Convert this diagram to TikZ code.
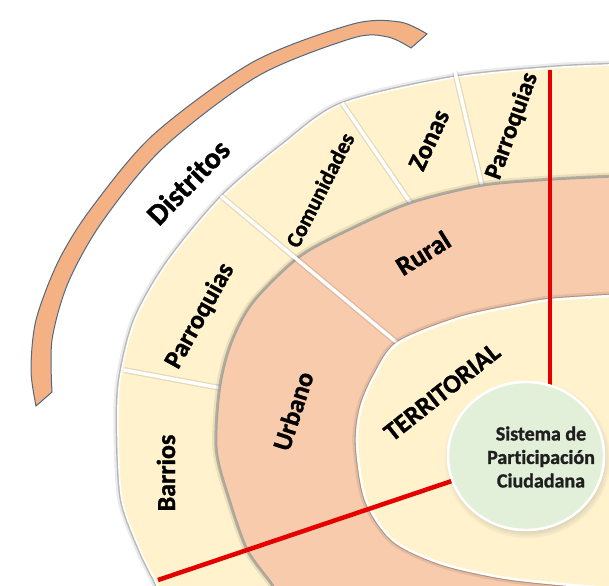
\documentclass[tikz,border=0pt]{standalone}
\usepackage{fontspec}
\setmainfont{Carlito}[Ligatures=NoCommon, BoldFeatures={FakeBold=1.3}]
\usetikzlibrary{shapes.geometric,shadows}
\definecolor{cream}{RGB}{255,242,204}
\definecolor{salmon}{RGB}{248,203,173}
\definecolor{sysgreen}{RGB}{226,240,217}
\definecolor{brk}{RGB}{244,177,131}
\definecolor{brkline}{RGB}{84,104,128}
\definecolor{redline}{RGB}{228,0,0}
\definecolor{rimgray}{RGB}{165,165,165}
\tikzset{
  lbl/.style={font=\bfseries\fontsize{#1}{#1}\selectfont, inner sep=0pt, text=black},
  systext/.style={font=\bfseries\fontsize{20}{23.5}\selectfont, inner sep=0pt, text={black!88}, align=center},
  shadowA/.style={draw=black, line width=9pt, opacity=0.08},
  shadowB/.style={draw=black, line width=4.5pt, opacity=0.22},
  whiterim/.style={draw=white, line width=1.6pt},
  grayrim/.style={draw=rimgray, line width=1.4pt},
  dividerline/.style={draw=white, line width=3.5pt},
  dividershadow/.style={draw=black, line width=6pt, opacity=0.10},
  redln/.style={draw=redline, line width=4.5pt},
  bracket/.style={fill=brk, draw=brkline, line width=1pt},
}
\begin{document}
\begin{tikzpicture}[x=1pt,y=-1pt]
\useasboundingbox (0,0) rectangle (609,585);
\clip (0,0) rectangle (609,585);
\fill[white] (0,0) rectangle (609,585);

% Distritos bracket
\draw[bracket] plot[smooth] coordinates {(36,406) (31,370) (36,320) (58,262) (90,210) (153,135) (253,62) (353,24) (400,22) (427,34)}
  -- plot[smooth] coordinates {(411,48) (388,37) (353,38) (258,76) (163,148) (102,222) (68,283) (52,340) (52,392)} -- cycle;

% outer ring
\path[save path=\outerP] plot[smooth] coordinates {(640,63) (609,65) (550,68) (452,78) (342,104) (283,145) (222,197) (168,262) (135,320) (120,380) (118,433) (122,500) (140,550) (157,585) (166,610)} -- (640,640) -- cycle;
\draw[shadowA, use path=\outerP];
\draw[shadowB, use path=\outerP];
\fill[cream, use path=\outerP];
\draw[whiterim, use path=\outerP];

% dividers ending at the salmon ring
\coordinate (d1a) at (455,72);  \coordinate (d1b) at (483,190);
\coordinate (d2a) at (342,103); \coordinate (d2b) at (414,208);
\coordinate (d4a) at (124,370); \coordinate (d4b) at (226,389);
\foreach \a/\b in {d1a/d1b,d2a/d2b,d4a/d4b}{
  \draw[dividershadow] (\a) -- (\b);
  \draw[dividerline] (\a) -- (\b);
}

% salmon ring
\path[save path=\salP] plot[smooth] coordinates {(640,176) (609,177) (550,180) (482,186) (412,203) (354,228) (300,257) (253,303) (231,345) (220,390) (217,450) (230,500) (248,550) (273,585) (285,610)} -- (640,640) -- cycle;
\draw[shadowA, use path=\salP];
\draw[shadowB, use path=\salP];
\fill[salmon, use path=\salP];
\draw[grayrim, use path=\salP];

% divider through outer ring and salmon ring
\coordinate (d3a) at (221,196); \coordinate (d3b) at (402,347);
\draw[dividershadow] (d3a) -- (d3b);
\draw[dividerline] (d3a) -- (d3b);

% territorial ring
\path[save path=\terP] plot[smooth] coordinates {(640,294) (609,296) (550,300) (520,305) (460,318) (398,343) (375,375) (361,408) (357,445) (366,500) (393,540) (440,563) (500,577) (560,584) (640,590)} -- (640,640) -- cycle;
\draw[shadowA, use path=\terP];
\draw[shadowB, use path=\terP];
\fill[cream, use path=\terP];
\draw[whiterim, line width=2.4pt, use path=\terP];

% centre
\node[ellipse, minimum width=156pt, minimum height=148pt, fill=sysgreen, draw=white, line width=2.4pt,
      circular drop shadow={shadow xshift=1pt, shadow yshift=-3pt, shadow scale=1.07, opacity=0.4}] (sys) at (526,456) {};

% red lines
\coordinate (r1a) at (550,70);
\coordinate (r2a) at (158,580);
\draw[redln] (r1a) -- (r1a |- sys.center);
\draw[redln] (r2a) -- (sys.center);
\node[ellipse, minimum width=156pt, minimum height=148pt, fill=sysgreen, draw=white, line width=2.4pt] (sysface) at (sys.center) {};

% labels
\node[lbl=30, rotate=46] (distritos) at (188,182) {Distritos};
\node[lbl=26, rotate=61] (parroq1) at (200,316) {Parroquias};
\node[lbl=22, rotate=63] (comun) at (320,190) {Comunidades};
\node[lbl=26, rotate=65] (zonas) at (429,140) {Zonas};
\node[lbl=25, rotate=70] (parroq2) at (512,126) {Parroquias};
\node[lbl=26, rotate=90] (barrios) at (166,473) {Barrios};
\node[lbl=26, rotate=72] (urbano) at (293,411) {Urbano};
\node[lbl=27, rotate=32] (rural) at (423,253) {Rural};
\node[lbl=26, rotate=38.5] (territ) at (442,392) {TERRITORIAL};
\node[systext] (systxt) at (541,457) {Sistema de\\Participación\\Ciudadana};
\end{tikzpicture}
\end{document}
